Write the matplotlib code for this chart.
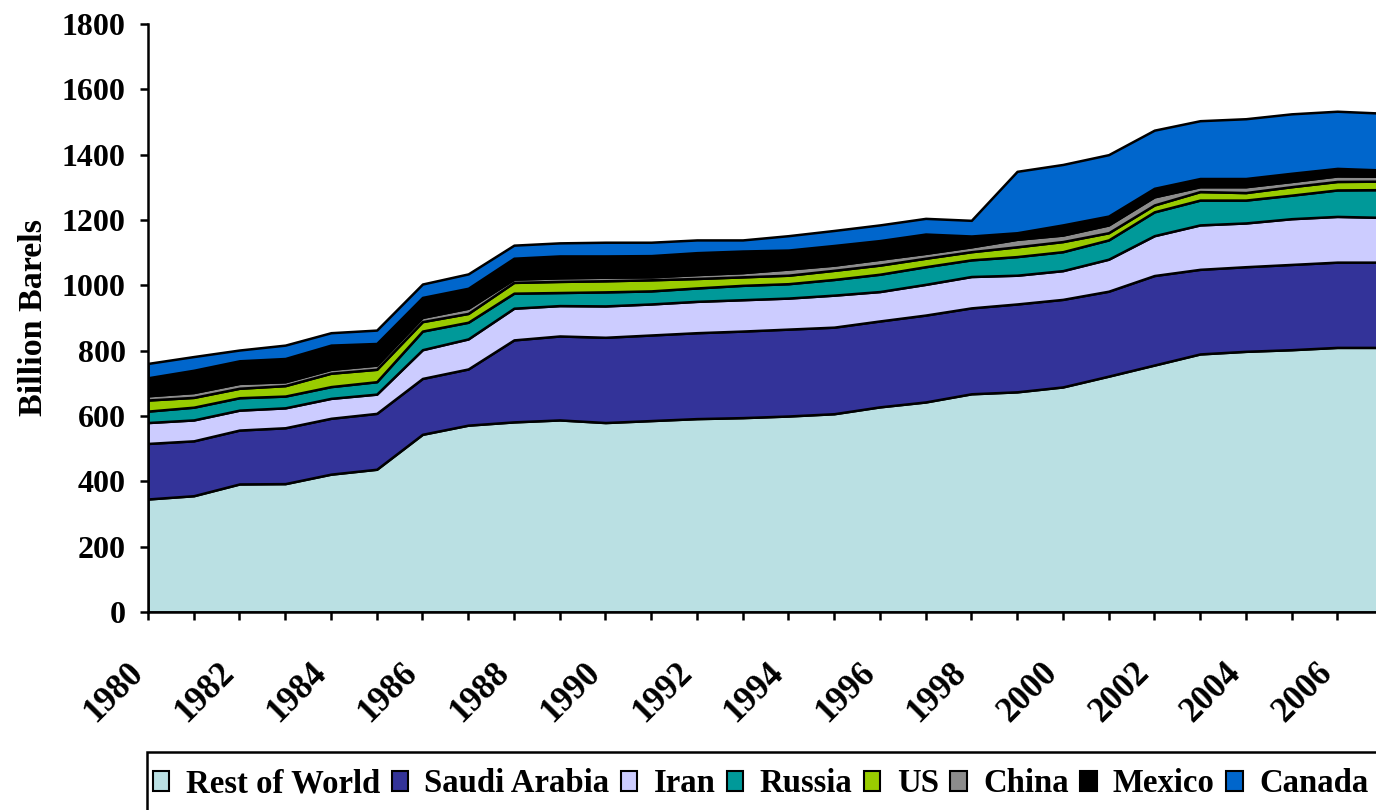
import matplotlib.pyplot as plt
from matplotlib.patches import Patch, Rectangle
from matplotlib.transforms import ScaledTranslation

plt.rcParams['font.family'] = ['Liberation Serif', 'DejaVu Serif']
plt.rcParams['font.weight'] = 'bold'

# proved reserves, billion barrels
years = list(range(1980, 2008))
rest_of_world = [346, 356, 392, 393, 422, 437, 544, 572, 582, 588, 580, 586, 592, 595,
                 600, 607, 628, 643, 668, 674, 689, 722, 756, 790, 798, 803, 810, 810]
saudi_arabia = [170, 168, 165, 171, 171, 171, 171, 172, 251, 257, 261, 262, 263, 265,
                266, 265, 263, 266, 263, 269, 268, 260, 274, 259, 259, 261, 261, 261]
iran = [64, 64, 61, 61, 61, 59, 88, 92, 97, 93, 96, 95, 96, 96,
        95, 98, 90, 94, 96, 88, 88, 98, 122, 136, 134, 140, 140, 137]
russia = [35, 39, 38, 36, 36, 38, 57, 51, 46, 40, 43, 40, 41, 44,
          44, 48, 53, 54, 51, 57, 58, 59, 73, 76, 70, 72, 81, 85]
us = [34, 30, 29, 32, 41, 38, 29, 27, 33, 34, 34, 34, 29, 26,
      26, 28, 28, 26, 25, 30, 31, 22, 21, 26, 23, 26, 26, 26]
china = [13, 15, 15, 12, 12, 13, 13, 16, 10, 11, 11, 9, 12, 13,
         19, 16, 18, 15, 15, 23, 20, 24, 25, 15, 18, 16, 17, 15]
mexico = [55, 68, 69, 71, 74, 66, 61, 61, 64, 67, 65, 65, 67, 66,
          58, 60, 57, 59, 33, 20, 31, 27, 26, 25, 25, 25, 23, 19]
canada = [44, 42, 33, 41, 38, 41, 41, 44, 40, 40, 42, 41, 39, 34,
          44, 46, 48, 48, 48, 188, 185, 188, 178, 177, 183, 182, 175, 174]

names = ['Rest of World', 'Saudi Arabia', 'Iran', 'Russia', 'US', 'China', 'Mexico', 'Canada']
colors = ['#BAE0E3', '#333399', '#CCCCFF', '#009999', '#99CC00', '#8C8C8C', '#000000', '#0066CC']

W, H = 1376, 810
fig = plt.figure(figsize=(W / 100, H / 100), dpi=100)
ax = fig.add_axes([148 / W, 198 / H, 1235 / W, 588 / H])

ax.stackplot(years, rest_of_world, saudi_arabia, iran, russia, us, china, mexico, canada,
             colors=colors, edgecolor='black', linewidth=1.8)

ax.set_xlim(1980, 2007)
ax.set_ylim(0, 1800)
ax.set_yticks(range(0, 1801, 200))
ax.set_xticks(years)
ax.set_xticklabels([str(y) if (y - 1980) % 2 == 0 else '' for y in years])

for s in ['top', 'right']:
    ax.spines[s].set_visible(False)
for s in ['left', 'bottom']:
    ax.spines[s].set_linewidth(1.8)

ax.tick_params(axis='y', direction='out', length=6, width=1.8, labelsize=23, pad=10)
ax.tick_params(axis='x', direction='out', length=6, width=1.8, labelsize=25, pad=34)

off = ScaledTranslation(-10 / 100, 0, fig.dpi_scale_trans)
for lab in ax.get_xticklabels():
    lab.set_rotation(45)
    lab.set_ha('right')
    lab.set_va('center')
    lab.set_rotation_mode('anchor')
    lab.set_transform(lab.get_transform() + off)

ax.set_ylabel('Billion Barels', fontsize=24.5, fontweight='bold')
ax.yaxis.set_label_coords(-0.080, 0.5)

handles = [Patch(facecolor=c, edgecolor='black', linewidth=1.5) for c in colors]
fig.legend(handles, names, loc='center left', bbox_to_anchor=(153 / W, 1 - 784 / H),
           ncol=8, frameon=False, fontsize=23.6, borderpad=0, borderaxespad=0,
           handlelength=0.5, handleheight=0.56, handletextpad=0.5, columnspacing=0.35)
fig.add_artist(Rectangle((147 / W, -0.05), 1.0, 0.05 + 1 - 752 / H, transform=fig.transFigure,
                         fill=False, edgecolor='black', linewidth=1.8))

fig.savefig('out.png', dpi=100)
